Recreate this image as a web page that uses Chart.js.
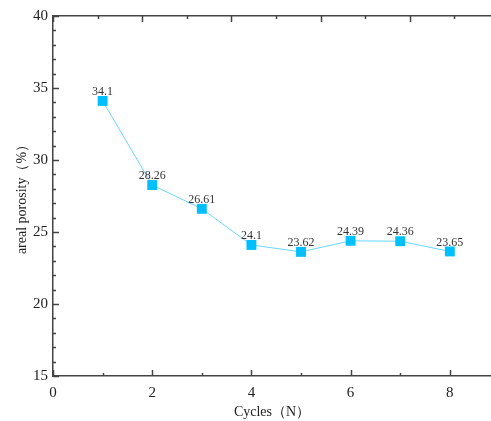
<!DOCTYPE html>
<html>
<head>
<meta charset="utf-8">
<script src="https://cdn.jsdelivr.net/npm/chart.js@4/dist/chart.umd.min.js"></script>
<style>
  html, body { margin: 0; padding: 0; background: #fff; }
  #wrap { width: 491px; height: 421px; }
</style>
</head>
<body>
<div id="wrap"><canvas id="porosity"></canvas></div>
<script>
const cycles = [1, 2, 3, 4, 5, 6, 7, 8];
const porosity = [34.1, 28.26, 26.61, 24.1, 23.62, 24.39, 24.36, 23.65];
const xTickValues = [0, 1, 2, 3, 4, 5, 6, 7, 8];
const xTopTickValues = [0, 1, 2, 3, 4, 5, 6, 7, 8, 9];
const xTitle = 'Cycles（N）';
const yTitle = 'areal porosity（%）';

const serif = '"Liberation Serif", "Times New Roman", serif';
const axisColor = '#444';

// inward tick marks (major + minor) for every scale
const innerTicks = {
    id: 'innerTicks',
    afterDraw(chart) {
        const c = chart.ctx;
        const area = chart.chartArea;
        c.save();
        c.strokeStyle = axisColor;
        c.lineWidth = 1.5;
        const sx = chart.scales.x;
        sx.ticks.forEach(t => {
            const px = Math.round(sx.getPixelForValue(t.value)) + 0.5;
            const len = t.value % 2 === 0 ? 6 : 3;
            c.beginPath(); c.moveTo(px, area.bottom); c.lineTo(px, area.bottom - len); c.stroke();
        });
        const st = chart.scales.xTop;
        st.ticks.forEach(t => {
            const px = Math.round(st.getPixelForValue(t.value)) + 0.5;
            const len = t.value % 2 === 0 ? 6 : 3;
            c.beginPath(); c.moveTo(px, area.top); c.lineTo(px, area.top + len); c.stroke();
        });
        const sy = chart.scales.y;
        sy.ticks.forEach(t => {
            const py = Math.round(sy.getPixelForValue(t.value)) + 0.5;
            const len = t.value % 5 === 0 ? 6 : 3;
            c.beginPath(); c.moveTo(area.left, py); c.lineTo(area.left + len, py); c.stroke();
        });
        c.restore();
    }
};

// value labels above markers
const pointLabels = {
    id: 'pointLabels',
    afterDatasetsDraw(chart) {
        const c = chart.ctx;
        const meta = chart.getDatasetMeta(0);
        c.save();
        c.font = '12px ' + serif;
        c.fillStyle = '#333';
        c.textAlign = 'center';
        c.textBaseline = 'bottom';
        meta.data.forEach((p, i) => {
            c.fillText(String(porosity[i]), p.x, p.y - 3);
        });
        c.restore();
    }
};

const noSidePad = s => { s.paddingLeft = 0; s.paddingRight = 0; };

new Chart(document.getElementById('porosity'), {
    type: 'line',
    data: {
        datasets: [{
            data: cycles.map((n, i) => ({ x: n, y: porosity[i] })),
            borderColor: '#6ad6ff',
            borderWidth: 1,
            backgroundColor: '#00bfff',
            pointStyle: 'rect',
            pointRadius: 7,
            pointHoverRadius: 7,
            pointBorderWidth: 0,
            pointBackgroundColor: '#00bfff',
            tension: 0
        }]
    },
    options: {
        responsive: true,
        maintainAspectRatio: false,
        animation: false,
        layout: { padding: 0, autoPadding: false },
        plugins: {
            legend: { display: false },
            tooltip: { enabled: false }
        },
        scales: {
            x: {
                type: 'linear',
                position: 'bottom',
                min: 0,
                max: 8.83,
                afterBuildTicks: s => { s.ticks = xTickValues.map(v => ({ value: v })); },
                ticks: {
                    autoSkip: false,
                    maxRotation: 0,
                    padding: 8,
                    color: '#222',
                    font: { family: serif, size: 15 },
                    callback: v => (v % 2 === 0 ? v : '')
                },
                grid: { display: false, drawTicks: false },
                border: { display: true, color: axisColor, width: 1.5 },
                title: {
                    display: true,
                    text: xTitle,
                    color: '#222',
                    font: { family: serif, size: 14 },
                    padding: { top: 2, bottom: 0 }
                },
                afterFit: s => { s.height = 45; noSidePad(s); }
            },
            xTop: {
                type: 'linear',
                position: 'top',
                min: 0,
                max: 9.82,
                afterBuildTicks: s => { s.ticks = xTopTickValues.map(v => ({ value: v })); },
                ticks: { display: false },
                grid: { display: false, drawTicks: false },
                border: { display: true, color: axisColor, width: 1.5 },
                afterFit: s => { s.height = 16; noSidePad(s); }
            },
            y: {
                min: 15,
                max: 40,
                ticks: {
                    stepSize: 1,
                    autoSkip: false,
                    padding: 5,
                    color: '#222',
                    font: { family: serif, size: 15 },
                    callback: v => (v % 5 === 0 ? v : '')
                },
                grid: { display: false, drawTicks: false },
                border: { display: true, color: axisColor, width: 1.5 },
                title: {
                    display: true,
                    text: yTitle,
                    color: '#222',
                    font: { family: serif, size: 14 },
                    padding: { top: 14, bottom: 0 }
                },
                afterFit: s => { s.width = 53; }
            }
        }
    },
    plugins: [innerTicks, pointLabels]
});
</script>
</body>
</html>
